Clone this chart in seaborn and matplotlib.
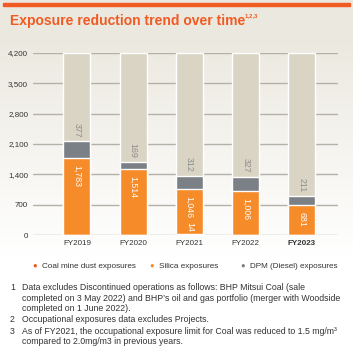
import numpy as np
import pandas as pd
import matplotlib
matplotlib.use("Agg")
import matplotlib.pyplot as plt
import seaborn as sns

years = ["FY2019", "FY2020", "FY2021", "FY2022", "FY2023"]
coal = [0, 0, 14, 0, 0]
silica = [1783, 1514, 1046, 1006, 681]
dpm = [377, 169, 312, 327, 211]
yticks = [0, 700, 1400, 2100, 2800, 3500, 4200]
footnotes = [
    ("1", "Data excludes Discontinued operations as follows: BHP Mitsui Coal (sale\n"
          "completed on 3 May 2022) and BHP\u2019s oil and gas portfolio (merger with Woodside\n"
          "completed on 1 June 2022)."),
    ("2", "Occupational exposures data excludes Projects."),
    ("3", "As of FY2021, the occupational exposure limit for Coal was reduced to 1.5 mg/m\u00b3\n"
          "compared to 2.0mg/m3 in previous years."),
]

ORANGE = "#f68b2a"
RED = "#ea5a1c"
GREY = "#7b8086"
TAUPE = "#d9d4c4"
TEXT = "#333333"

sns.set_style("white")
plt.rcParams["font.family"] = ["Liberation Sans", "DejaVu Sans"]

df = pd.DataFrame({"year": years, "coal": coal, "silica": silica, "dpm": dpm})
df["low"] = df["coal"] + df["silica"]
df["total"] = df["low"] + df["dpm"]
df["cap"] = yticks[-1]

fig = plt.figure(figsize=(3.53, 3.55), dpi=100)

# background: beige at top fading to white
bg = fig.add_axes([0, 0, 1, 1], zorder=-10)
grad = np.linspace(0, 1, 256).reshape(-1, 1, 1)
top_c = np.array([0.925, 0.914, 0.878])
rgb = top_c + (1 - top_c) * np.clip((grad - 0.12) / 0.6, 0, 1)
bg.imshow(rgb, aspect="auto", extent=[0, 1, 0, 1], origin="upper")
bg.axhspan(0.983, 0.992, xmin=0.008, xmax=0.992, color="#f15a22")
bg.set_xlim(0, 1)
bg.set_ylim(0, 1)
bg.axis("off")

ax = fig.add_axes([0.0935, 0.338, 0.864, 0.513])
ax.patch.set_alpha(0)
w = 0.48
sns.barplot(data=df, x="year", y="cap", color=TAUPE, width=w, saturation=1, ax=ax, zorder=2)
sns.barplot(data=df, x="year", y="total", color=GREY, width=w, saturation=1, ax=ax, zorder=3)
sns.barplot(data=df, x="year", y="low", color=ORANGE, width=w, saturation=1, ax=ax, zorder=4)
sns.barplot(data=df, x="year", y="coal", color=RED, width=w, saturation=1, ax=ax, zorder=5)

for i, row in df.iterrows():
    ax.annotate(f"{row['silica']:,}", (i, row["low"]), xytext=(0, -5), textcoords="offset points",
                rotation=-90, ha="center", va="top", color="white", fontsize=6.3, zorder=6)
    ax.annotate(f"{row['dpm']:,}", (i, row["total"]), xytext=(0, 3), textcoords="offset points",
                rotation=-90, ha="center", va="bottom", color="#8c8c8c", fontsize=6.3, zorder=6)
    if row["coal"] > 0:
        ax.annotate(f"{row['coal']:,}", (i, 0), xytext=(0, 2), textcoords="offset points",
                    rotation=-90, ha="center", va="bottom", color="white", fontsize=6.3, zorder=6)

ax.set_ylim(0, yticks[-1])
ax.set_xlim(-0.78, 4.64)
ax.set_yticks(yticks)
ax.set_yticklabels([f"{v:,}" for v in yticks], fontsize=5.8, color=TEXT)
ax.set_xticklabels(years, fontsize=5.8, color=TEXT)
ax.get_xticklabels()[-1].set_fontweight("bold")
ax.tick_params(length=0, pad=3.5)
ax.set_xlabel("")
ax.set_ylabel("")
ax.grid(axis="y", color="#b5b1a8", linewidth=1, zorder=1)
ax.set_axisbelow(True)
for s in ax.spines.values():
    s.set_visible(False)

fig.text(0.028, 0.942, "Exposure reduction trend over time", color="#f15a22",
         fontsize=10, fontweight="bold", va="center")
fig.text(0.693, 0.956, "1,2,3", color="#f15a22", fontsize=4.3, fontweight="bold", va="center")

# legend
items = [("Coal mine dust exposures", RED), ("Silica exposures", ORANGE), ("DPM (Diesel) exposures", GREY)]
xs = [0.099, 0.43, 0.688]
for (lab, c), x in zip(items, xs):
    fig.text(x, 0.25, "\u25CF", color=c, fontsize=5.5, va="center", ha="center")
    fig.text(x + 0.021, 0.25, lab, color=TEXT, fontsize=5.9, va="center")

ys = [0.202, 0.113, 0.079]
for (n, t), y in zip(footnotes, ys):
    fig.text(0.028, y, n, fontsize=6.3, color=TEXT, va="top", linespacing=1.22)
    fig.text(0.062, y, t, fontsize=6.3, color=TEXT, va="top", linespacing=1.22)

fig.savefig("out.png", dpi=100)
